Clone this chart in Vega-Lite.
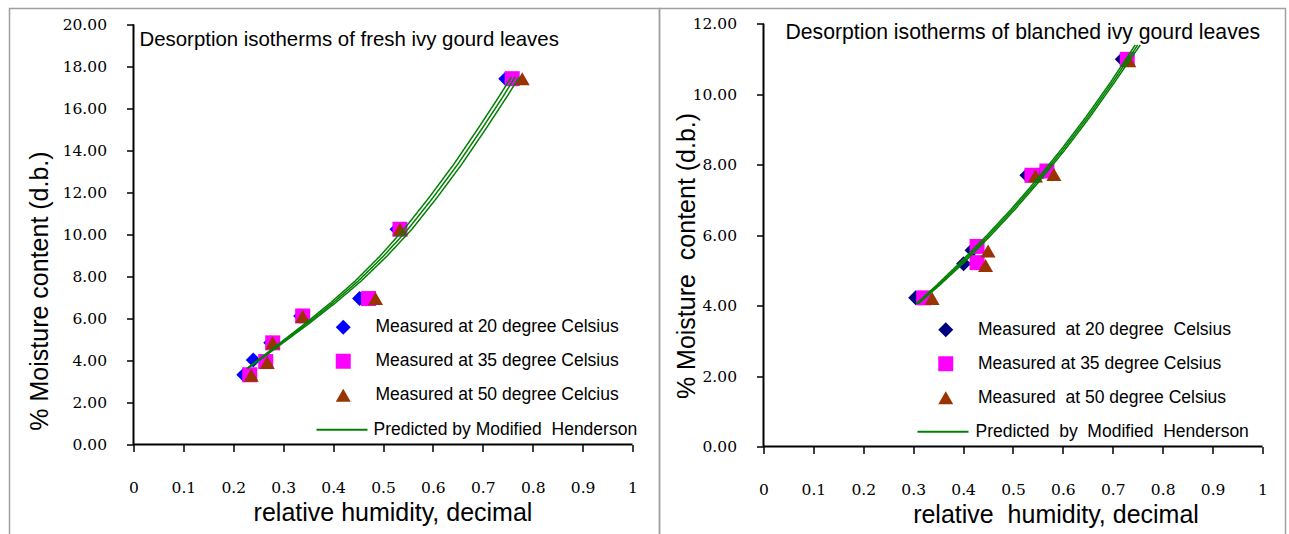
{
  "$schema": "https://vega.github.io/schema/vega-lite/v6.json",
  "background": "white",
  "padding": {"left": 8.5, "top": 7.5, "right": 0, "bottom": 0},
  "bounds": "flush",
  "spacing": 0,
  "config": {
    "view": {"stroke": "#a0a0a0", "strokeWidth": 1.5},
    "axis": {"grid": false, "domain": false, "tickColor": "black", "tickWidth": 1.5, "tickSize": 7, "labelFont": "DejaVu Serif", "labelFontSize": 15.5, "labelColor": "black", "labelFlush": false, "labelOverlap": false, "titleFont": "Liberation Sans", "titleFontSize": 25, "titleFontWeight": "normal", "titleColor": "black", "titleAlign": "center", "titleBaseline": "middle"},
    "legend": {"labelFont": "Liberation Sans", "labelFontSize": 17.5, "labelColor": "black", "padding": 0, "rowPadding": 15, "symbolSize": 225, "labelOffset": 23.5, "symbolStrokeWidth": 2, "labelLimit": 400},
    "title": {"font": "Liberation Sans", "fontWeight": "normal", "color": "black", "anchor": "start", "frame": "group", "orient": "top", "offset": 0, "baseline": "middle"}
  },
  "datasets": {
    "fresh_points": [
      {"series": "Measured at 20 degree Celsius", "rh": 0.221, "mc": 3.32},
      {"series": "Measured at 20 degree Celsius", "rh": 0.240, "mc": 4.02},
      {"series": "Measured at 20 degree Celsius", "rh": 0.275, "mc": 4.84},
      {"series": "Measured at 20 degree Celsius", "rh": 0.335, "mc": 6.12},
      {"series": "Measured at 20 degree Celsius", "rh": 0.453, "mc": 6.95},
      {"series": "Measured at 20 degree Celsius", "rh": 0.528, "mc": 10.25},
      {"series": "Measured at 20 degree Celsius", "rh": 0.746, "mc": 17.42},
      {"series": "Measured at 35 degree Celsius", "rh": 0.233, "mc": 3.32},
      {"series": "Measured at 35 degree Celsius", "rh": 0.265, "mc": 3.95},
      {"series": "Measured at 35 degree Celsius", "rh": 0.279, "mc": 4.84},
      {"series": "Measured at 35 degree Celsius", "rh": 0.339, "mc": 6.12},
      {"series": "Measured at 35 degree Celsius", "rh": 0.471, "mc": 6.95},
      {"series": "Measured at 35 degree Celsius", "rh": 0.534, "mc": 10.25},
      {"series": "Measured at 35 degree Celsius", "rh": 0.759, "mc": 17.42},
      {"series": "Measured at 50 degree Celcius", "rh": 0.236, "mc": 3.30},
      {"series": "Measured at 50 degree Celcius", "rh": 0.268, "mc": 3.90},
      {"series": "Measured at 50 degree Celcius", "rh": 0.279, "mc": 4.84},
      {"series": "Measured at 50 degree Celcius", "rh": 0.339, "mc": 6.10},
      {"series": "Measured at 50 degree Celcius", "rh": 0.485, "mc": 6.95},
      {"series": "Measured at 50 degree Celcius", "rh": 0.534, "mc": 10.25},
      {"series": "Measured at 50 degree Celcius", "rh": 0.779, "mc": 17.42}
    ],
    "fresh_curves": [
      {"curve": "20", "rh": 0.227, "mc": 3.62}, {"curve": "20", "rh": 0.258, "mc": 4.18}, {"curve": "20", "rh": 0.297, "mc": 4.90}, {"curve": "20", "rh": 0.346, "mc": 5.80}, {"curve": "20", "rh": 0.395, "mc": 6.75}, {"curve": "20", "rh": 0.444, "mc": 7.78}, {"curve": "20", "rh": 0.493, "mc": 8.95}, {"curve": "20", "rh": 0.542, "mc": 10.25}, {"curve": "20", "rh": 0.592, "mc": 11.75}, {"curve": "20", "rh": 0.642, "mc": 13.35}, {"curve": "20", "rh": 0.692, "mc": 15.10}, {"curve": "20", "rh": 0.732, "mc": 16.55}, {"curve": "20", "rh": 0.757, "mc": 17.50},
      {"curve": "35", "rh": 0.228, "mc": 3.62}, {"curve": "35", "rh": 0.260, "mc": 4.18}, {"curve": "35", "rh": 0.300, "mc": 4.90}, {"curve": "35", "rh": 0.350, "mc": 5.80}, {"curve": "35", "rh": 0.400, "mc": 6.75}, {"curve": "35", "rh": 0.450, "mc": 7.78}, {"curve": "35", "rh": 0.500, "mc": 8.95}, {"curve": "35", "rh": 0.550, "mc": 10.25}, {"curve": "35", "rh": 0.600, "mc": 11.75}, {"curve": "35", "rh": 0.650, "mc": 13.35}, {"curve": "35", "rh": 0.700, "mc": 15.10}, {"curve": "35", "rh": 0.740, "mc": 16.55}, {"curve": "35", "rh": 0.765, "mc": 17.50},
      {"curve": "50", "rh": 0.229, "mc": 3.62}, {"curve": "50", "rh": 0.262, "mc": 4.18}, {"curve": "50", "rh": 0.303, "mc": 4.90}, {"curve": "50", "rh": 0.354, "mc": 5.80}, {"curve": "50", "rh": 0.405, "mc": 6.75}, {"curve": "50", "rh": 0.456, "mc": 7.78}, {"curve": "50", "rh": 0.507, "mc": 8.95}, {"curve": "50", "rh": 0.558, "mc": 10.25}, {"curve": "50", "rh": 0.608, "mc": 11.75}, {"curve": "50", "rh": 0.658, "mc": 13.35}, {"curve": "50", "rh": 0.708, "mc": 15.10}, {"curve": "50", "rh": 0.748, "mc": 16.55}, {"curve": "50", "rh": 0.773, "mc": 17.50}
    ],
    "blanched_points": [
      {"series": "Measured\u00a0 at 20 degree\u00a0 Celsius", "rh": 0.305, "mc": 4.22},
      {"series": "Measured\u00a0 at 20 degree\u00a0 Celsius", "rh": 0.401, "mc": 5.19},
      {"series": "Measured\u00a0 at 20 degree\u00a0 Celsius", "rh": 0.418, "mc": 5.57},
      {"series": "Measured\u00a0 at 20 degree\u00a0 Celsius", "rh": 0.528, "mc": 7.70},
      {"series": "Measured\u00a0 at 20 degree\u00a0 Celsius", "rh": 0.560, "mc": 7.80},
      {"series": "Measured\u00a0 at 20 degree\u00a0 Celsius", "rh": 0.719, "mc": 10.99},
      {"series": "Measured at 35 degree Celsius", "rh": 0.321, "mc": 4.22},
      {"series": "Measured at 35 degree Celsius", "rh": 0.428, "mc": 5.22},
      {"series": "Measured at 35 degree Celsius", "rh": 0.428, "mc": 5.68},
      {"series": "Measured at 35 degree Celsius", "rh": 0.538, "mc": 7.70},
      {"series": "Measured at 35 degree Celsius", "rh": 0.568, "mc": 7.82},
      {"series": "Measured at 35 degree Celsius", "rh": 0.729, "mc": 10.99},
      {"series": "Measured\u00a0 at 50 degree Celsius", "rh": 0.338, "mc": 4.20},
      {"series": "Measured\u00a0 at 50 degree Celsius", "rh": 0.445, "mc": 5.14},
      {"series": "Measured\u00a0 at 50 degree Celsius", "rh": 0.450, "mc": 5.55},
      {"series": "Measured\u00a0 at 50 degree Celsius", "rh": 0.545, "mc": 7.68},
      {"series": "Measured\u00a0 at 50 degree Celsius", "rh": 0.582, "mc": 7.72},
      {"series": "Measured\u00a0 at 50 degree Celsius", "rh": 0.732, "mc": 10.95}
    ],
    "blanched_curves": [
      {"curve": "20", "rh": 0.306, "mc": 4.05}, {"curve": "20", "rh": 0.347, "mc": 4.58}, {"curve": "20", "rh": 0.396, "mc": 5.25}, {"curve": "20", "rh": 0.446, "mc": 5.97}, {"curve": "20", "rh": 0.496, "mc": 6.73}, {"curve": "20", "rh": 0.546, "mc": 7.55}, {"curve": "20", "rh": 0.596, "mc": 8.42}, {"curve": "20", "rh": 0.646, "mc": 9.35}, {"curve": "20", "rh": 0.696, "mc": 10.35}, {"curve": "20", "rh": 0.745, "mc": 11.40},
      {"curve": "35", "rh": 0.308, "mc": 4.05}, {"curve": "35", "rh": 0.350, "mc": 4.58}, {"curve": "35", "rh": 0.400, "mc": 5.25}, {"curve": "35", "rh": 0.450, "mc": 5.97}, {"curve": "35", "rh": 0.500, "mc": 6.73}, {"curve": "35", "rh": 0.550, "mc": 7.55}, {"curve": "35", "rh": 0.600, "mc": 8.42}, {"curve": "35", "rh": 0.650, "mc": 9.35}, {"curve": "35", "rh": 0.700, "mc": 10.35}, {"curve": "35", "rh": 0.750, "mc": 11.40},
      {"curve": "50", "rh": 0.310, "mc": 4.05}, {"curve": "50", "rh": 0.353, "mc": 4.58}, {"curve": "50", "rh": 0.404, "mc": 5.25}, {"curve": "50", "rh": 0.454, "mc": 5.97}, {"curve": "50", "rh": 0.504, "mc": 6.73}, {"curve": "50", "rh": 0.554, "mc": 7.55}, {"curve": "50", "rh": 0.604, "mc": 8.42}, {"curve": "50", "rh": 0.654, "mc": 9.35}, {"curve": "50", "rh": 0.704, "mc": 10.35}, {"curve": "50", "rh": 0.755, "mc": 11.40}
    ]
  },
  "resolve": {
    "scale": {"x": "independent", "y": "independent", "color": "independent", "shape": "independent", "strokeDash": "independent"},
    "legend": {"color": "independent", "shape": "independent", "strokeDash": "independent"}
  },
  "hconcat": [
    {
      "width": 650,
      "height": 527,
      "title": {"text": "Desorption isotherms of fresh ivy gourd leaves", "dx": 130, "dy": 46, "fontSize": 20.4},
      "layer": [
        {
          "data": {"name": "fresh_points"},
          "mark": {"type": "point", "filled": true, "opacity": 1, "size": 225},
          "encoding": {
            "x": {"field": "rh", "type": "quantitative", "scale": {"domain": [-0.2485, 1.0541], "nice": false, "zero": false},
              "axis": {"orient": "bottom", "offset": -91, "values": [0, 0.1, 0.2, 0.3, 0.4, 0.5, 0.6, 0.7, 0.8, 0.9, 1], "format": "~g", "labelPadding": 29, "title": "relative humidity, decimal", "titleX": 383, "titleY": 68}},
            "y": {"field": "mc", "type": "quantitative", "scale": {"domain": [-4.333, 20.762], "nice": false, "zero": false},
              "axis": {"orient": "left", "offset": -124, "values": [0, 2, 4, 6, 8, 10, 12, 14, 16, 18, 20], "format": ".2f", "labelPadding": 20, "title": "% Moisture content (d.b.)", "titleX": -94, "titleY": 282, "titleAngle": -90}},
            "color": {"field": "series", "type": "nominal",
              "scale": {"domain": ["Measured at 20 degree Celsius", "Measured at 35 degree Celsius", "Measured at 50 degree Celcius"], "range": ["#0000FF", "#FF00FF", "#993300"]},
              "legend": {"title": null, "orient": "none", "legendX": 325, "legendY": 310}},
            "shape": {"field": "series", "type": "nominal",
              "scale": {"domain": ["Measured at 20 degree Celsius", "Measured at 35 degree Celsius", "Measured at 50 degree Celcius"], "range": ["diamond", "square", "triangle-up"]},
              "legend": {"title": null, "orient": "none", "legendX": 325, "legendY": 310}}
          }
        },
        {
          "data": {"name": "fresh_curves"},
          "mark": {"type": "line", "color": "#008000", "strokeWidth": 1.5},
          "encoding": {
            "x": {"field": "rh", "type": "quantitative", "scale": {"domain": [-0.2485, 1.0541], "nice": false, "zero": false},
              "axis": {"orient": "bottom", "offset": -91, "values": [0, 0.1, 0.2, 0.3, 0.4, 0.5, 0.6, 0.7, 0.8, 0.9, 1], "format": "~g", "labelPadding": 29, "title": "relative humidity, decimal", "titleX": 383, "titleY": 68}},
            "y": {"field": "mc", "type": "quantitative", "scale": {"domain": [-4.333, 20.762], "nice": false, "zero": false},
              "axis": {"orient": "left", "offset": -124, "values": [0, 2, 4, 6, 8, 10, 12, 14, 16, 18, 20], "format": ".2f", "labelPadding": 20, "title": "% Moisture content (d.b.)", "titleX": -94, "titleY": 282, "titleAngle": -90}},
            "detail": {"field": "curve", "type": "nominal"},
            "strokeDash": {"datum": "Predicted by Modified\u00a0 Henderson", "type": "nominal",
              "scale": {"domain": ["Predicted by Modified\u00a0 Henderson"], "range": [[1, 0]]},
              "legend": {"title": null, "orient": "none", "legendX": 306, "legendY": 394.75, "symbolSize": 2600, "labelOffset": 5, "symbolStrokeColor": "#008000", "symbolStrokeWidth": 2}}
          }
        },
        {
          "data": {"values": [{}]},
          "mark": {"type": "rule", "color": "black", "strokeWidth": 2},
          "encoding": {
            "x": {"datum": 0, "type": "quantitative", "scale": {"domain": [-0.2485, 1.0541], "nice": false, "zero": false},
              "axis": {"orient": "bottom", "offset": -91, "values": [0, 0.1, 0.2, 0.3, 0.4, 0.5, 0.6, 0.7, 0.8, 0.9, 1], "format": "~g", "labelPadding": 29, "title": "relative humidity, decimal", "titleX": 383, "titleY": 68}},
            "x2": {"datum": 1},
            "y": {"datum": 0, "type": "quantitative", "scale": {"domain": [-4.333, 20.762], "nice": false, "zero": false},
              "axis": {"orient": "left", "offset": -124, "values": [0, 2, 4, 6, 8, 10, 12, 14, 16, 18, 20], "format": ".2f", "labelPadding": 20, "title": "% Moisture content (d.b.)", "titleX": -94, "titleY": 282, "titleAngle": -90}}
          }
        },
        {
          "data": {"values": [{}]},
          "mark": {"type": "rule", "color": "black", "strokeWidth": 2},
          "encoding": {
            "x": {"datum": 0, "type": "quantitative", "scale": {"domain": [-0.2485, 1.0541], "nice": false, "zero": false},
              "axis": {"orient": "bottom", "offset": -91, "values": [0, 0.1, 0.2, 0.3, 0.4, 0.5, 0.6, 0.7, 0.8, 0.9, 1], "format": "~g", "labelPadding": 29, "title": "relative humidity, decimal", "titleX": 383, "titleY": 68}},
            "y": {"datum": 0, "type": "quantitative", "scale": {"domain": [-4.333, 20.762], "nice": false, "zero": false},
              "axis": {"orient": "left", "offset": -124, "values": [0, 2, 4, 6, 8, 10, 12, 14, 16, 18, 20], "format": ".2f", "labelPadding": 20, "title": "% Moisture content (d.b.)", "titleX": -94, "titleY": 282, "titleAngle": -90}},
            "y2": {"datum": 20}
          }
        }
      ]
    },
    {
      "width": 626,
      "height": 527,
      "title": {"text": "Desorption isotherms of blanched ivy gourd leaves", "dx": 126, "dy": 39, "fontSize": 21.2},
      "layer": [
        {
          "data": {"name": "blanched_points"},
          "mark": {"type": "point", "filled": true, "opacity": 1, "size": 225},
          "encoding": {
            "x": {"field": "rh", "type": "quantitative", "scale": {"domain": [-0.2084, 1.0461], "nice": false, "zero": false},
              "axis": {"orient": "bottom", "offset": -89, "values": [0, 0.1, 0.2, 0.3, 0.4, 0.5, 0.6, 0.7, 0.8, 0.9, 1], "format": "~g", "labelPadding": 29, "title": "relative\u00a0 humidity, decimal", "titleX": 396, "titleY": 68}},
            "y": {"field": "mc", "type": "quantitative", "scale": {"domain": [-2.527, 12.434], "nice": false, "zero": false},
              "axis": {"orient": "left", "offset": -104, "values": [0, 2, 4, 6, 8, 10, 12], "format": ".2f", "labelPadding": 20, "title": "% Moisture\u00a0 content (d.b.)", "titleX": -77, "titleY": 247, "titleAngle": -90}},
            "color": {"field": "series", "type": "nominal",
              "scale": {"domain": ["Measured\u00a0 at 20 degree\u00a0 Celsius", "Measured at 35 degree Celsius", "Measured\u00a0 at 50 degree Celsius"], "range": ["#000080", "#FF00FF", "#993300"]},
              "legend": {"title": null, "orient": "none", "legendX": 277.5, "legendY": 312.5}},
            "shape": {"field": "series", "type": "nominal",
              "scale": {"domain": ["Measured\u00a0 at 20 degree\u00a0 Celsius", "Measured at 35 degree Celsius", "Measured\u00a0 at 50 degree Celsius"], "range": ["diamond", "square", "triangle-up"]},
              "legend": {"title": null, "orient": "none", "legendX": 277.5, "legendY": 312.5}}
          }
        },
        {
          "data": {"name": "blanched_curves"},
          "mark": {"type": "line", "color": "#008000", "strokeWidth": 1.5},
          "encoding": {
            "x": {"field": "rh", "type": "quantitative", "scale": {"domain": [-0.2084, 1.0461], "nice": false, "zero": false},
              "axis": {"orient": "bottom", "offset": -89, "values": [0, 0.1, 0.2, 0.3, 0.4, 0.5, 0.6, 0.7, 0.8, 0.9, 1], "format": "~g", "labelPadding": 29, "title": "relative\u00a0 humidity, decimal", "titleX": 396, "titleY": 68}},
            "y": {"field": "mc", "type": "quantitative", "scale": {"domain": [-2.527, 12.434], "nice": false, "zero": false},
              "axis": {"orient": "left", "offset": -104, "values": [0, 2, 4, 6, 8, 10, 12], "format": ".2f", "labelPadding": 20, "title": "% Moisture\u00a0 content (d.b.)", "titleX": -77, "titleY": 247, "titleAngle": -90}},
            "detail": {"field": "curve", "type": "nominal"},
            "strokeDash": {"datum": "Predicted\u00a0 by\u00a0 Modified\u00a0 Henderson", "type": "nominal",
              "scale": {"domain": ["Predicted\u00a0 by\u00a0 Modified\u00a0 Henderson"], "range": [[1, 0]]},
              "legend": {"title": null, "orient": "none", "legendX": 257, "legendY": 396.75, "symbolSize": 2600, "labelOffset": 6, "symbolStrokeColor": "#008000", "symbolStrokeWidth": 2}}
          }
        },
        {
          "data": {"values": [{}]},
          "mark": {"type": "rule", "color": "black", "strokeWidth": 2},
          "encoding": {
            "x": {"datum": 0, "type": "quantitative", "scale": {"domain": [-0.2084, 1.0461], "nice": false, "zero": false},
              "axis": {"orient": "bottom", "offset": -89, "values": [0, 0.1, 0.2, 0.3, 0.4, 0.5, 0.6, 0.7, 0.8, 0.9, 1], "format": "~g", "labelPadding": 29, "title": "relative\u00a0 humidity, decimal", "titleX": 396, "titleY": 68}},
            "x2": {"datum": 1},
            "y": {"datum": 0, "type": "quantitative", "scale": {"domain": [-2.527, 12.434], "nice": false, "zero": false},
              "axis": {"orient": "left", "offset": -104, "values": [0, 2, 4, 6, 8, 10, 12], "format": ".2f", "labelPadding": 20, "title": "% Moisture\u00a0 content (d.b.)", "titleX": -77, "titleY": 247, "titleAngle": -90}}
          }
        },
        {
          "data": {"values": [{}]},
          "mark": {"type": "rule", "color": "black", "strokeWidth": 2},
          "encoding": {
            "x": {"datum": 0, "type": "quantitative", "scale": {"domain": [-0.2084, 1.0461], "nice": false, "zero": false},
              "axis": {"orient": "bottom", "offset": -89, "values": [0, 0.1, 0.2, 0.3, 0.4, 0.5, 0.6, 0.7, 0.8, 0.9, 1], "format": "~g", "labelPadding": 29, "title": "relative\u00a0 humidity, decimal", "titleX": 396, "titleY": 68}},
            "y": {"datum": 0, "type": "quantitative", "scale": {"domain": [-2.527, 12.434], "nice": false, "zero": false},
              "axis": {"orient": "left", "offset": -104, "values": [0, 2, 4, 6, 8, 10, 12], "format": ".2f", "labelPadding": 20, "title": "% Moisture\u00a0 content (d.b.)", "titleX": -77, "titleY": 247, "titleAngle": -90}},
            "y2": {"datum": 12}
          }
        }
      ]
    }
  ]
}
